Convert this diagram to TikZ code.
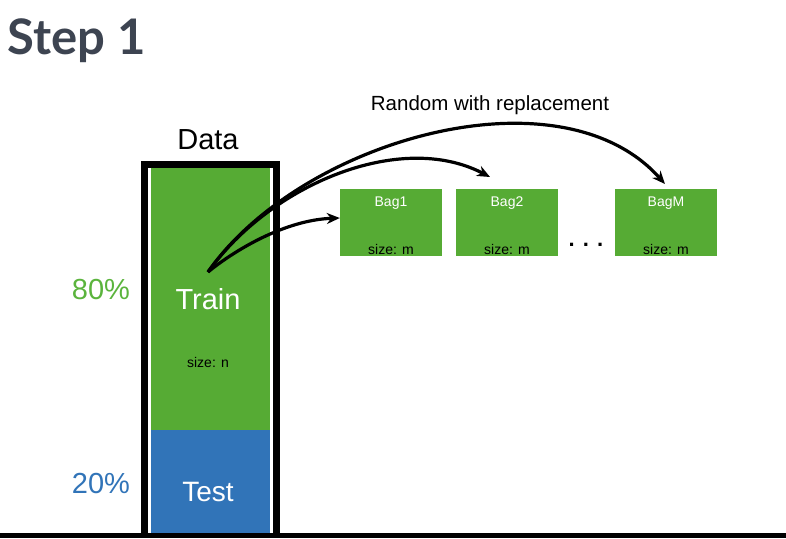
\documentclass[tikz,border=0pt]{standalone}
\usepackage{fontspec}
\setmainfont{Liberation Sans}
\newfontfamily\titlefont{Lato}
\usepackage{tikz}
\usetikzlibrary{arrows.meta}
\definecolor{traingreen}{HTML}{56AB34}
\definecolor{pctgreen}{HTML}{5BB43D}
\definecolor{testblue}{HTML}{3174B8}
\definecolor{titlegray}{HTML}{3D4451}
\begin{document}
\begin{tikzpicture}[x=1pt, y=-1pt,
    bag/.style={fill=traingreen, minimum width=102pt, minimum height=67pt, inner sep=0pt},
    bagname/.style={text=white, font=\fontsize{14}{16}\selectfont, anchor=north},
    bagsize/.style={font=\fontsize{14}{16}\selectfont, anchor=south},
    sample/.style={line width=3.2pt, -{Stealth[length=13pt, width=11pt]}}]
    \useasboundingbox (0,0) rectangle (786,538);
    % Title
    \node[anchor=west, text=titlegray, font=\titlefont\bfseries\fontsize{49}{56}\selectfont] (title) at (4,41) {Step 1};
    % Data column
    \node[fill=traingreen, minimum width=119pt, minimum height=262pt, inner sep=0pt] (train) at (210.5,299) {};
    \node[fill=testblue, minimum width=119pt, minimum height=103pt, inner sep=0pt] (test) at (210.5,481.5) {};
    \draw[line width=7pt] (144.5,535) -- (144.5,164.5) -- (276.5,164.5) -- (276.5,535);
    \draw[line width=5pt] (0,535.5) -- (786,535.5);
    \node[font=\fontsize{29}{34}\selectfont] (data) at (208,140) {Data};
    \node[text=white, font=\fontsize{29}{34}\selectfont] (trainlabel) at (208,299) {Train};
    \node[font=\fontsize{14}{16}\selectfont] (trainsize) at (208,362) {size: n};
    \node[text=white, font=\fontsize{28}{34}\selectfont] (testlabel) at (208,492) {Test};
    \node[text=pctgreen, font=\fontsize{29}{34}\selectfont] (pcttrain) at (101,290) {80\%};
    \node[text=testblue, font=\fontsize{29}{34}\selectfont] (pcttest) at (101,484) {20\%};
    % Bags
    \node[bag] (bag1) at (391,222) {};
    \node[bag] (bag2) at (507,222) {};
    \node[bag] (bagm) at (666,222) {};
    \foreach \b/\t in {bag1/Bag1, bag2/Bag2, bagm/BagM} {
        \node[bagname] (\b name) at ([yshift=-5pt]\b.north) {\t};
        \node[bagsize] (\b size) at ([yshift=-2pt]\b.south) {size: m};
    }
    \node[anchor=base, font=\bfseries\fontsize{22}{24}\selectfont] (dots) at (586,246) {. . .};
    % Sampling arrows
    \coordinate (src) at (208,272);
    \draw[sample] (src) .. controls (235,250) and (285,220) .. (bag1.west |- 0,218);
    \draw[sample] (src) .. controls (270,185) and (400,130) .. (490,177);
    \draw[sample] (src) .. controls (300,140) and (560,66) .. (665,184);
    \node[font=\fontsize{20.5}{24}\selectfont] (random) at (490,105) {Random with replacement};
\end{tikzpicture}
\end{document}
